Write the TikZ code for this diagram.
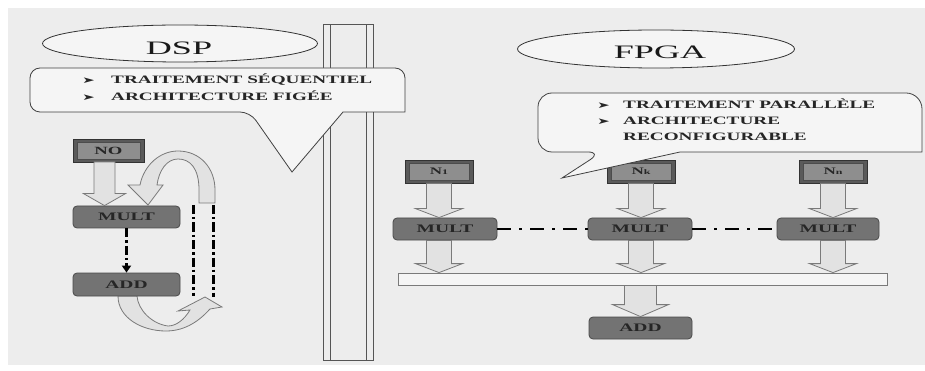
\documentclass[tikz,border=0pt]{standalone}
\usepackage{fontspec}
\setmainfont{Liberation Serif}
\newfontfamily\wf[FakeStretch=1.7]{Liberation Serif}
\newfontfamily\tf[FakeStretch=1.9]{Liberation Serif}
\newfontfamily\symf[FakeStretch=1.7]{DejaVu Sans}
\usetikzlibrary{calc,arrows.meta,shapes.geometric}
\definecolor{bg}{HTML}{EDEDED}
\definecolor{shapefill}{HTML}{F5F5F5}
\definecolor{boxfill}{HTML}{737373}
\definecolor{boxline}{HTML}{4A4A4A}
\definecolor{nframe}{HTML}{5A5A5A}
\definecolor{ninner}{HTML}{8E8E8E}
\definecolor{txt}{HTML}{262626}
\definecolor{arrowfill}{HTML}{E2E2E2}
\definecolor{arrowline}{HTML}{7A7A7A}
\definecolor{pillarline}{HTML}{555555}
\newcommand\barrow[5]{%
  \draw[blockarrow] let \p1=#1, \p2=#2 in
   (\x1-#3,\y1) -- (\x1-#3,\y2+#5) -- (\x1-#4,\y2+#5) -- (\x1,\y2) --
   (\x1+#4,\y2+#5) -- (\x1+#3,\y2+#5) -- (\x1+#3,\y1) -- cycle;}
\begin{document}
\begin{tikzpicture}[x=1pt,y=-1pt,
  procbox/.style={rectangle, rounded corners=4pt, fill=boxfill, draw=boxline,
    line width=0.8pt, inner sep=0pt, text=txt,
    font=\wf\bfseries\fontsize{11.5}{12}\selectfont},
  inbox/.style={rectangle, fill=nframe, draw=black!80, line width=0.8pt,
    minimum width=68pt, minimum height=23pt, inner sep=0pt, text=txt,
    font=\wf\bfseries\fontsize{10}{10}\selectfont,
    path picture={
      \fill[ninner] ([shift={(4pt,-3pt)}]path picture bounding box.north west)
        rectangle ([shift={(-4pt,3pt)}]path picture bounding box.south east);
      \draw[black!70,line width=.6pt] ([shift={(4pt,-3pt)}]path picture bounding box.north west)
        rectangle ([shift={(-4pt,3pt)}]path picture bounding box.south east);}},
  titleell/.style={ellipse, draw=black!80, line width=0.8pt, fill=shapefill, inner sep=0pt},
  titletext/.style={inner sep=0pt, text=black!90, font=\tf\fontsize{19}{19}\selectfont},
  callout/.style={draw=black!75, line width=0.8pt, fill=shapefill},
  ctext/.style={inner sep=0pt, anchor=base west, text=txt,
    font=\wf\bfseries\fontsize{11.3}{12}\selectfont},
  blockarrow/.style={fill=arrowfill, draw=arrowline, line width=0.8pt},
  curvearrow/.style={fill=arrowfill, draw=arrowline, line width=0.8pt},
  ddline/.style={line width=3pt, black, dash pattern=on 9pt off 3pt on 2.5pt off 3pt},
  linkline/.style={line width=1.8pt, black, dash pattern=on 14pt off 8pt on 3pt off 8pt},
  pillar/.style={draw=pillarline, line width=1pt}
]
\useasboundingbox (0,0) rectangle (925,371);
\fill[white] (0,0) rectangle (925,371);
\fill[bg] (8,8) rectangle (925,365);

% separating pillar
\draw[pillar] (323,25) rectangle (373,360);
\draw[pillar] (330,25) -- (330,360);
\draw[pillar] (366,25) -- (366,360);

% ---------------- DSP side ----------------
\node[titleell, minimum width=275pt, minimum height=37pt] (dspell) at (180,43.5) {};
\node[titletext] (dsptitle) at (179,48) {DSP};

\draw[callout] (200,68) [rounded corners=10pt] -- (30,68) -- (30,112) -- (250,112)
  [sharp corners] -- (292,172) -- (343,112) -- (405,112)
  [rounded corners=10pt] -- (405,68) -- cycle;
\node[ctext] (dspl1) at (82,84) {\makebox[29pt][l]{\symf\fontsize{9}{9}\selectfont ➤}TRAITEMENT SÉQUENTIEL};
\node[ctext] (dspl2) at (82,101) {\makebox[29pt][l]{\symf\fontsize{9}{9}\selectfont ➤}ARCHITECTURE FIGÉE};

% loop dash-dot lines
\coordinate (la1) at (193,205);
\coordinate (la2) at (193,296);
\coordinate (lb1) at (213,205);
\coordinate (lb2) at (213,297);
\draw[ddline] (la1) -- (la2);
\draw[ddline] (lb1) -- (lb2);

% curved loop arrows
\draw[curvearrow] (199,203) -- (199,190) .. controls (199,168) and (190,159) .. (178,159)
  .. controls (167,159) and (159,170) .. (157,185) -- (163,185) -- (148,205) -- (128,185)
  -- (140,185) .. controls (144,165) and (160,151) .. (178,151)
  .. controls (200,151) and (215,168) .. (215,190) -- (215,203) -- cycle;
\draw[curvearrow] (118,296) .. controls (118,318) and (142,331) .. (166,331)
  .. controls (186,331) and (200,320) .. (210,309) -- (222,307) -- (205,297) -- (178,311)
  -- (190,310) .. controls (184,320) and (176,326) .. (168,326)
  .. controls (152,324) and (138,310) .. (137,296) -- cycle;

\node[inbox, minimum width=71pt, font=\wf\bfseries\fontsize{11}{11}\selectfont] (no) at (108.5,150.5) {NO};
\node[procbox, minimum width=107pt, minimum height=22pt] (dmult) at (126.5,217) {MULT};
\node[procbox, minimum width=107pt, minimum height=23pt] (dadd) at (126.5,284.5) {ADD};

\coordinate (noout) at (104.5,162);
\barrow{(noout)}{(noout |- dmult.north)}{10.5pt}{21pt}{12pt}
\draw[ddline, -{Triangle[width=9pt,length=7pt]}] (dmult.south) -- (dadd.north);

% ---------------- FPGA side ----------------
\node[titleell, minimum width=277pt, minimum height=38pt] (fpgaell) at (656,49) {};
\node[titletext] (fpgatitle) at (660,52.5) {FPGA};

\node[inbox] (n1) at (439,171.5) {N{\fontsize{7}{7}\selectfont 1}};
\node[inbox] (nk) at (641,171.5) {N{\fontsize{7}{7}\selectfont k}};
\node[inbox] (nn) at (833,171.5) {N{\fontsize{7}{7}\selectfont n}};

\draw[callout] (700,93) [rounded corners=14pt] -- (538,93) -- (538,152) -- (602,152)
  [sharp corners] -- (562,178) -- (680,152) -- (922,152)
  [rounded corners=16pt] -- (922,93) -- cycle;
\node[ctext] (fl1) at (597,109) {\makebox[26pt][l]{\symf\fontsize{9}{9}\selectfont ➤}TRAITEMENT PARALLÈLE};
\node[ctext] (fl2) at (597,125) {\makebox[26pt][l]{\symf\fontsize{9}{9}\selectfont ➤}ARCHITECTURE};
\node[ctext] (fl3) at (623,141) {RECONFIGURABLE};

\node[procbox, minimum width=104pt, minimum height=22pt] (m1) at (445,229) {MULT};
\node[procbox, minimum width=104pt, minimum height=22pt] (m2) at (640,229) {MULT};
\node[procbox, minimum width=102pt, minimum height=22pt] (m3) at (828,229) {MULT};

\node[rectangle, fill=shapefill, draw=arrowline, line width=0.8pt, inner sep=0pt,
  minimum width=489pt, minimum height=12pt] (bar) at (642.5,279) {};
\node[procbox, minimum width=103pt, minimum height=22pt] (fadd) at (640.5,328) {ADD};

\draw[linkline] (m1.east) -- (m2.west);
\draw[linkline] (m2.east) -- (m3.west);

\barrow{(n1.south)}{(n1.south |- m1.north)}{12.5pt}{23.5pt}{9pt}
\barrow{(nk.south)}{(nk.south |- m2.north)}{12.5pt}{23.5pt}{9pt}
\barrow{(nn.south)}{(nn.south |- m3.north)}{12.5pt}{23.5pt}{9pt}
\barrow{(m1.south -| n1.south)}{(bar.north -| n1.south)}{12.5pt}{23.5pt}{9pt}
\barrow{(m2.south -| nk.south)}{(bar.north -| nk.south)}{12.5pt}{23.5pt}{9pt}
\barrow{(m3.south -| nn.south)}{(bar.north -| nn.south)}{12.5pt}{23.5pt}{9pt}
\barrow{(bar.south -| fadd.north)}{(fadd.north)}{16pt}{28pt}{12pt}
\end{tikzpicture}
\end{document}
